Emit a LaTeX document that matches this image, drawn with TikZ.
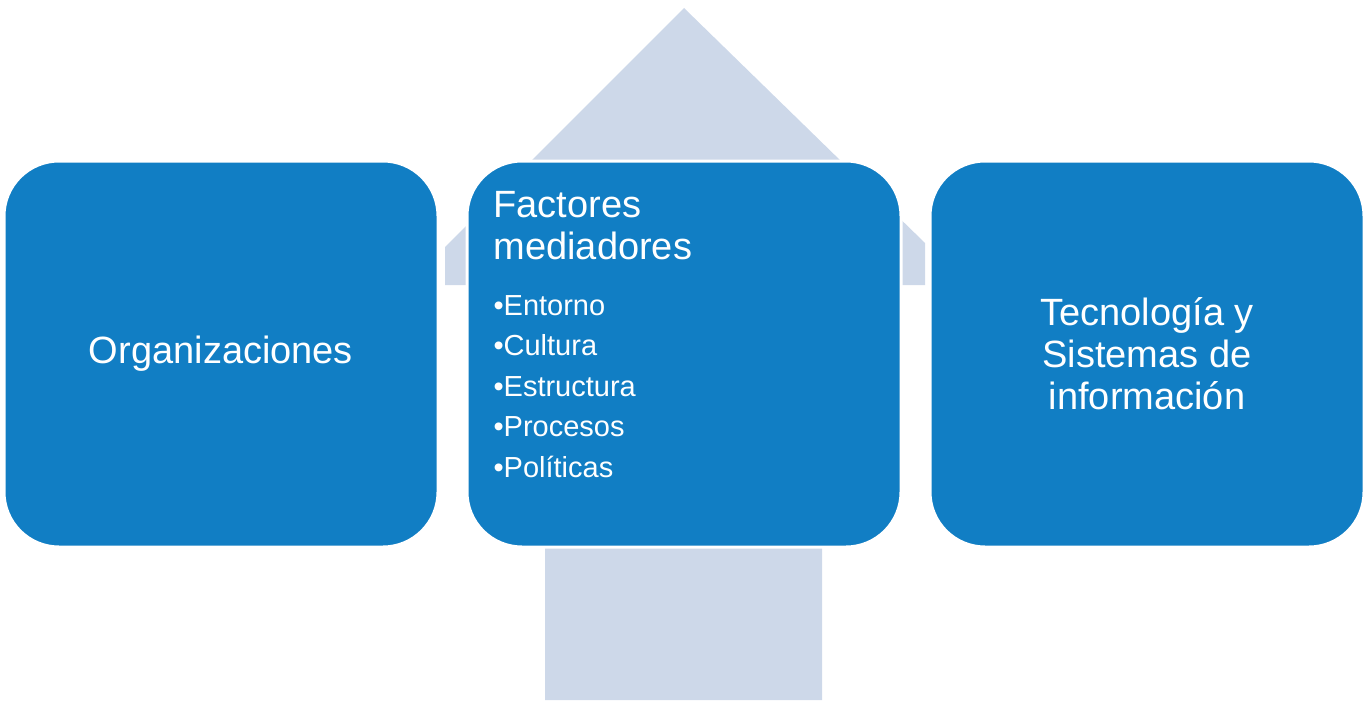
\documentclass[tikz,border=0pt]{standalone}
\usepackage{fontspec}
\setmainfont{Liberation Sans}
\definecolor{boxblue}{RGB}{17,126,196}
\definecolor{arrowgray}{RGB}{205,216,233}
\tikzset{
  factor/.style={fill=boxblue, draw=white, line width=3pt, rounded corners=55pt},
  boxtext/.style={text=white, font=\fontsize{38}{42}\selectfont, align=center}
}
\begin{document}
\begin{tikzpicture}[x=1pt,y=-1pt]
  \useasboundingbox (0,0) rectangle (1369,709);
  % background arrow
  \fill[arrowgray] (684,8) -- (445,247) -- (445,285) -- (545,285) -- (545,700)
    -- (822,700) -- (822,285) -- (925,285) -- (925,243) -- cycle;
  % three boxes
  \draw[factor] (4,161) rectangle (438,547);
  \draw[factor] (467,161) rectangle (901,547);
  \draw[factor] (930,161) rectangle (1364,547);
  \node[boxtext] (org) at (221,354) {Organizaciones};
  \node[boxtext] (tec) at (1147,354) {Tecnología y\\Sistemas de\\información};
  \node[boxtext, align=left, anchor=north west] (fac) at (490,188) {Factores\\mediadores};
  \node[text=white, font=\fontsize{29}{40.5}\selectfont, align=left, anchor=north west]
    (lst) at (490,292) {•Entorno\\•Cultura\\•Estructura\\•Procesos\\•Políticas};
\end{tikzpicture}
\end{document}
